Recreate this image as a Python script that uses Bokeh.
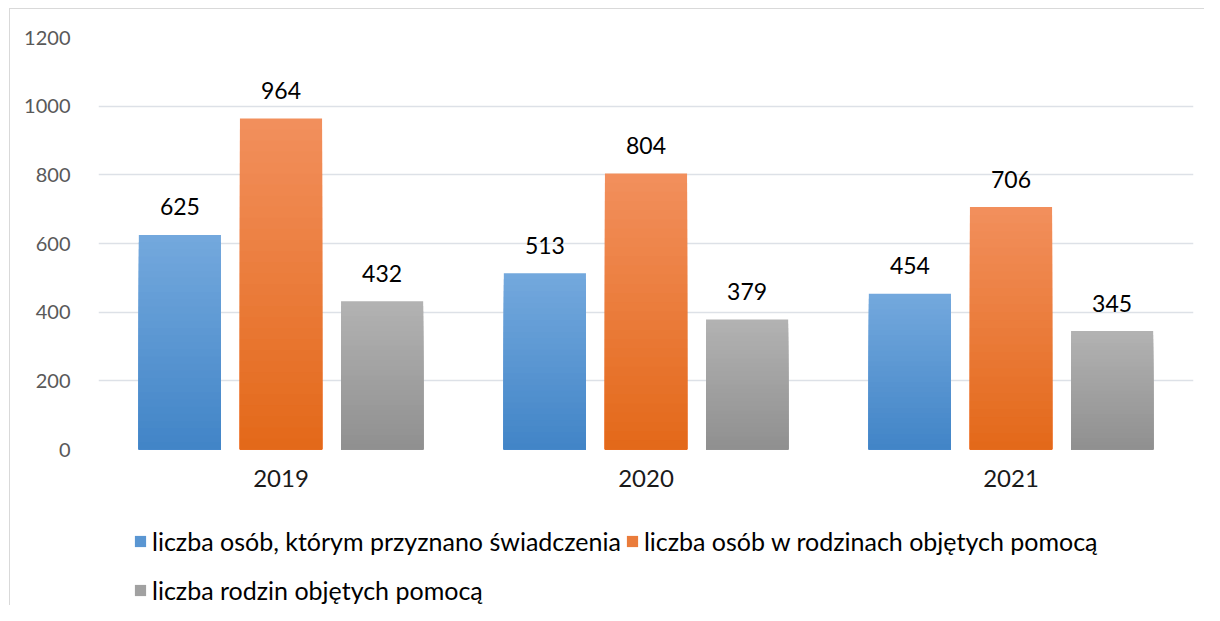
from bokeh.plotting import figure
from bokeh.layouts import column
from bokeh.models import FactorRange, Range1d, FixedTicker, Legend, LegendItem, ColumnDataSource
from bokeh.transform import dodge
from bokeh.core.properties import value
from bokeh.embed import file_html
from bokeh.resources import INLINE

years = ["2019", "2020", "2021"]
persons_granted = [625, 513, 454]
persons_in_families = [964, 804, 706]
families = [432, 379, 345]
series_names = [
    "liczba osób, którym przyznano świadczenia",
    "liczba osób w rodzinach objętych pomocą",
    "liczba rodzin objętych pomocą",
]
y_ticks = [0, 200, 400, 600, 800, 1000, 1200]

FONT = "Lato"
GRID = "#dde1e7"

p = figure(
    width=1204, height=500,
    x_range=FactorRange(*years, range_padding=0),
    y_range=Range1d(0, 1200),
    output_backend="svg", toolbar_location=None,
    min_border_left=98, min_border_right=11, min_border_top=37, min_border_bottom=51,
)
p.border_fill_color = None
p.background_fill_color = None
p.outline_line_color = None
p.xgrid.grid_line_color = None
p.ygrid.grid_line_color = GRID
p.ygrid.grid_line_width = 1.3
p.yaxis.ticker = FixedTicker(ticks=y_ticks)
for ax in (p.xaxis[0], p.yaxis[0]):
    ax.axis_line_color = None
    ax.major_tick_line_color = None
    ax.minor_tick_line_color = None
p.yaxis.major_label_text_font = FONT
p.yaxis.major_label_text_font_size = "20px"
p.yaxis.major_label_text_color = "#595959"
p.yaxis.major_label_standoff = 22
p.xaxis.major_label_text_font = FONT
p.xaxis.major_label_text_font_size = "24px"
p.xaxis.major_label_text_color = "#1a1a1a"
p.xaxis.major_label_standoff = 14

def hex2rgb(h):
    h = h.lstrip("#")
    return [int(h[i:i + 2], 16) for i in (0, 2, 4)]

def interp(c1, c2, t):
    a, b = hex2rgb(c1), hex2rgb(c2)
    return "#%02x%02x%02x" % tuple(int(round(a[i] + (b[i] - a[i]) * t)) for i in range(3))

series = [persons_granted, persons_in_families, families]
offsets = [-0.277, 0.0, 0.277]
grads = [("#73a8dd", "#4285c7"), ("#f28f5c", "#e3691a"), ("#b2b2b2", "#909090")]
N = 30
BAR_W = 0.225

for vals, off, (ctop, cbot) in zip(series, offsets, grads):
    for k in range(N):
        t = k / (N - 1)
        src = ColumnDataSource(dict(year=years, top=[v * (1 - k / N) for v in vals]))
        p.vbar(x=dodge("year", off, range=p.x_range), top="top", bottom=0, width=BAR_W,
               source=src, fill_color=interp(ctop, cbot, t), line_color=None)
    lsrc = ColumnDataSource(dict(year=years, val=vals, lab=[str(v) for v in vals]))
    p.text(x=dodge("year", off, range=p.x_range), y="val", text="lab", source=lsrc,
           text_font=value(FONT), text_font_size="23px", text_color="black",
           text_align="center", text_baseline="alphabetic", y_offset=-28)

# legend strip below the chart
q = figure(width=1204, height=105, x_range=Range1d(0, 1), y_range=Range1d(0, 1),
           output_backend="svg", toolbar_location=None,
           min_border_left=0, min_border_right=0, min_border_top=0, min_border_bottom=0)
q.axis.visible = False
q.grid.visible = False
q.outline_line_color = None
q.border_fill_color = None
q.background_fill_color = None

leg_r = []
for (ctop, cbot) in grads:
    leg_r.append(q.vbar(x=[0.5], top=[0], bottom=[0], width=0.0,
                        fill_color=interp(ctop, cbot, 0.5), line_color=None))

def mk_legend(items, loc):
    lg = Legend(items=items, location=loc, orientation="horizontal",
                label_text_font=FONT, label_text_font_size="25px", label_text_color="black",
                glyph_width=14, glyph_height=14, label_standoff=5, spacing=4,
                padding=0, margin=0, border_line_color=None, background_fill_alpha=0,
                label_height=26)
    q.add_layout(lg, "center")

mk_legend([LegendItem(label=series_names[0], renderers=[leg_r[0]]),
           LegendItem(label=series_names[1], renderers=[leg_r[1]])], (35, 49))
mk_legend([LegendItem(label=series_names[2], renderers=[leg_r[2]])], (35, 0))

layout = column(p, q, spacing=0)
layout.styles = {
    "background": "linear-gradient(#d9d9d9,#d9d9d9) 9px 8px / 100% 1px no-repeat, "
                  "linear-gradient(#d9d9d9,#d9d9d9) 9px 8px / 1px 100% no-repeat",
}

open("out.html", "w").write(file_html(layout, INLINE))
